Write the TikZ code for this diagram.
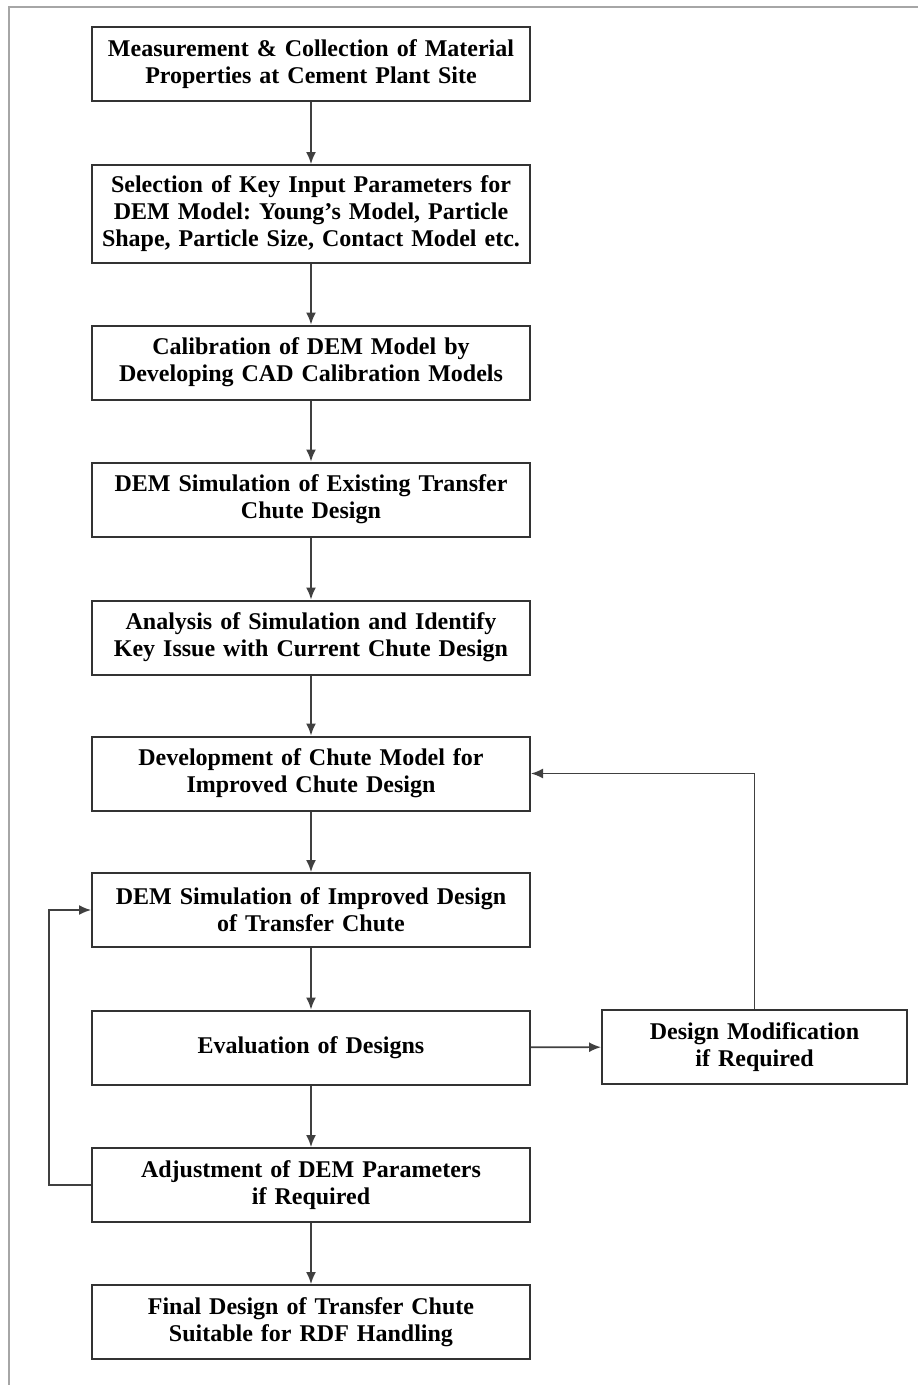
\documentclass[tikz,border=0pt]{standalone}
\usepackage{fontspec}
\setmainfont{Liberation Serif}
\frenchspacing
\usetikzlibrary{arrows.meta}
\tikzset{
  stage/.style={draw=black!80,line width=2pt,minimum width=438pt,minimum height=74pt,
    text width=434pt,align=center,inner sep=0pt,font=\fontsize{24}{27}\selectfont\bfseries},
  flow/.style={draw=black!75,line width=1.6pt,-{Latex[length=12pt,width=10pt]}}
}
\begin{document}
\begin{tikzpicture}[x=1pt,y=-1pt]
\useasboundingbox (0,0) rectangle (918,1385);
\draw[black!35,line width=1.5pt] (918,7) -- (9,7) -- (9,1385);
%%%%
\node[stage] (meas) at (311,64) {Measurement \& Collection of Material\\Properties at Cement Plant Site};
\node[stage,minimum height=98pt] (sel) at (311,214) {Selection of Key Input Parameters for\\DEM Model: Young's Model, Particle\\Shape, Particle Size, Contact Model etc.};
\node[stage] (cal) at (311,362.5) {Calibration of DEM Model by\\Developing CAD Calibration Models};
\node[stage] (sim) at (311,499.5) {DEM Simulation of Existing Transfer\\Chute Design};
\node[stage] (ana) at (311,637.5) {Analysis of Simulation and Identify\\Key Issue with Current Chute Design};
\node[stage] (dev) at (311,773.5) {Development of Chute Model for\\Improved Chute Design};
\node[stage] (imp) at (311,910) {DEM Simulation of Improved Design\\of Transfer Chute};
\node[stage] (eval) at (311,1047.5) {Evaluation of Designs};
\node[stage] (adj) at (311,1185) {Adjustment of DEM Parameters\\if Required};
\node[stage] (fin) at (311,1322) {Final Design of Transfer Chute\\Suitable for RDF Handling};
\node[stage,minimum width=305pt,text width=300pt] (mod) at (754.5,1047) {Design Modification\\if Required};
%%%%
\foreach \a/\b in {meas/sel,sel/cal,cal/sim,sim/ana,ana/dev,dev/imp,imp/eval,eval/adj,adj/fin}
\draw[flow] (\a) -- (\b);
\draw[flow] (eval) -- (mod);
\draw[flow] (mod.north) |- (dev.east);
\draw[flow] (adj.west) -- ++(-42,0) |- (imp.west);
\end{tikzpicture}
\end{document}
